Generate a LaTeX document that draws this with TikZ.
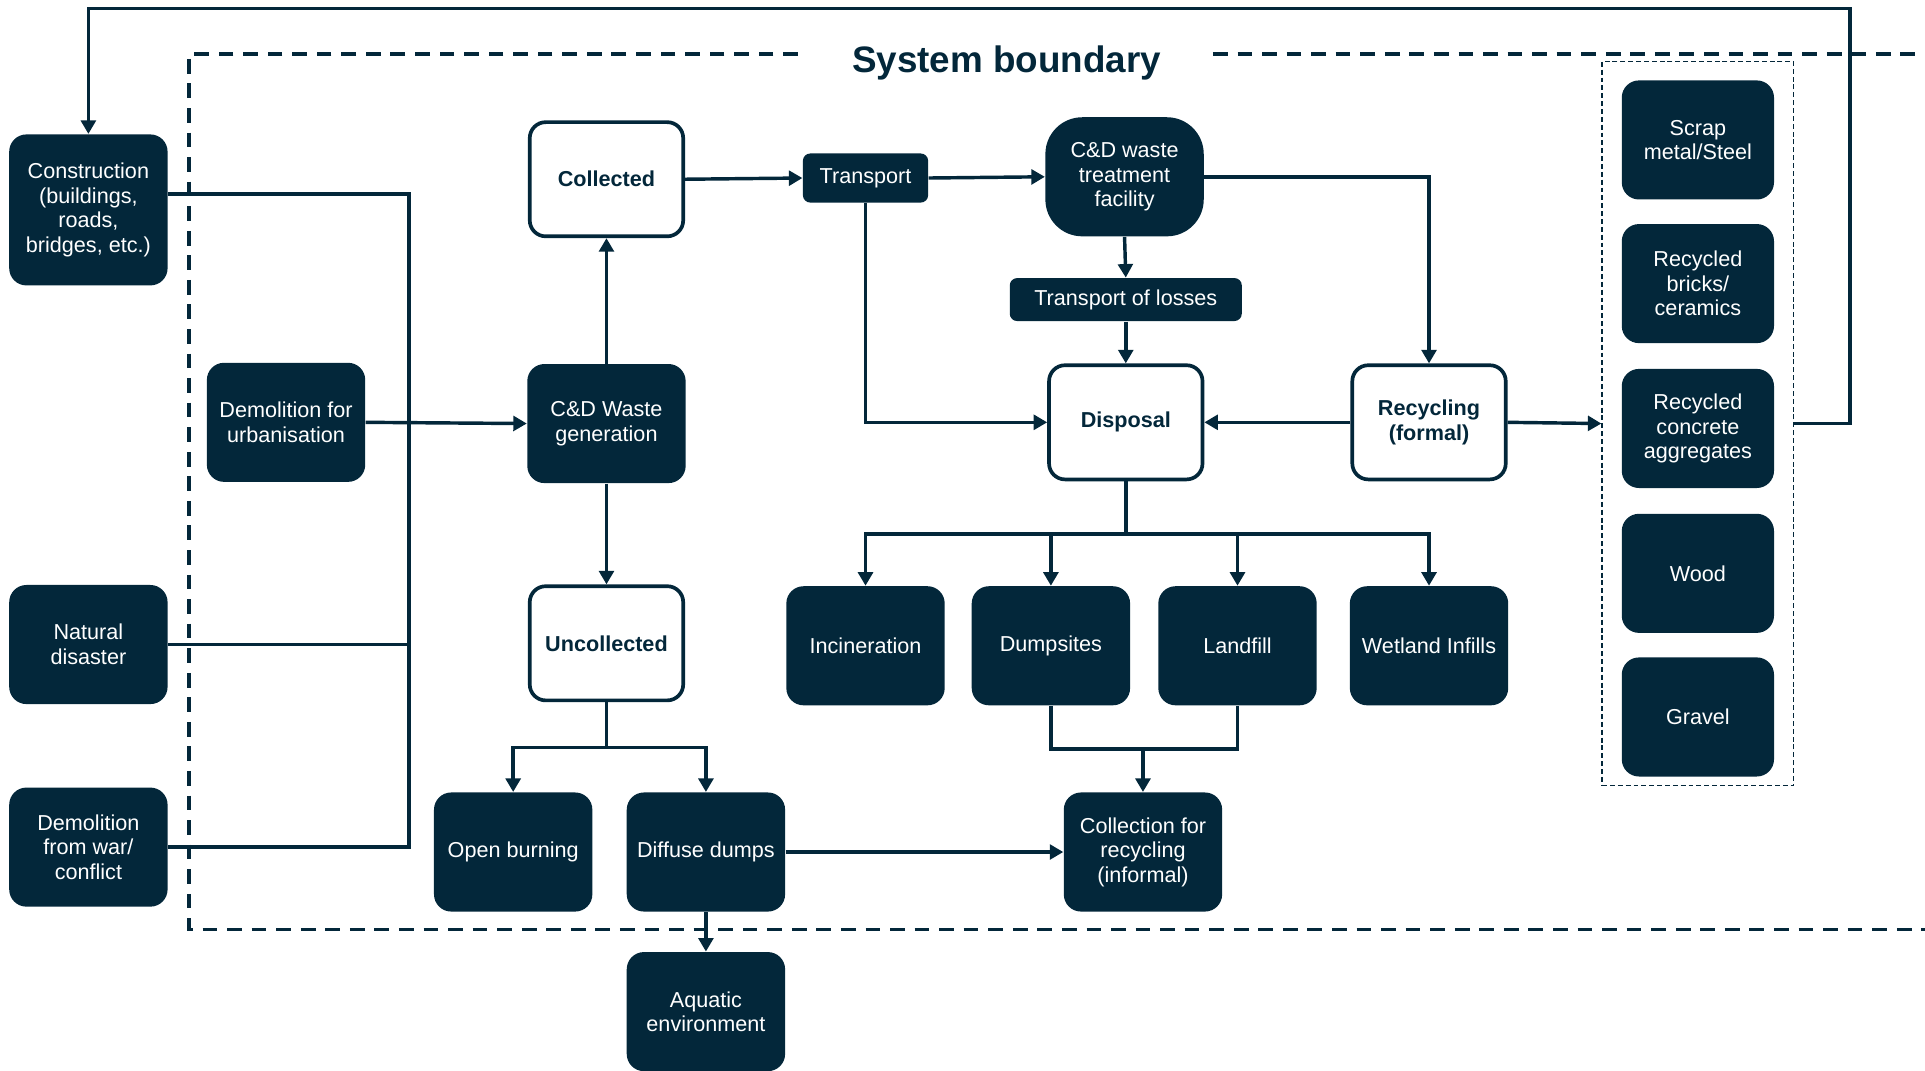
\documentclass[tikz,border=0pt]{standalone}
\usepackage{fontspec}
\setmainfont{Liberation Sans}
\usetikzlibrary{arrows.meta}
\definecolor{navy}{RGB}{3,39,58}

\begin{document}
\begin{tikzpicture}[x=0.5pt,y=-0.5pt,
  txt/.style={font=\fontsize{8.8}{10}\selectfont},
  dark/.style={txt, draw=none, fill=navy, text=white, rounded corners=7pt, align=center,
    minimum width=64.5pt, minimum height=48.5pt, inner sep=2pt},
  light/.style={txt, draw=navy, line width=1.5pt, fill=white, text=navy, rounded corners=6.5pt,
    align=center, font=\fontsize{8.8}{10}\selectfont\bfseries, minimum width=62.5pt, minimum height=46.5pt},
  product/.style={dark, minimum width=62pt},
  link/.style={draw=navy, line width=1.4pt},
  flow/.style={link, -{Triangle[length=5.5pt,width=6pt]}},
  boundary/.style={draw=navy, line width=1.5pt, dash pattern=on 6pt off 4pt},
  group/.style={draw=navy, line width=0.6pt, dash pattern=on 2pt off 1.2pt, fill=none,
    minimum width=78pt, minimum height=295pt}
]
\useasboundingbox (0,0) rectangle (1568,872);

% system boundary with its title
\draw[boundary] (650,44) -- (154,44) -- (154,757) -- (1568,757);
\draw[boundary] (988,44) -- (1568,44);
\node[text=navy, font=\fontsize{15}{17}\selectfont\bfseries] (title) at (820,51) {System boundary};

% sources
\node[dark, minimum height=61.5pt] (constr) at (72,171) {Construction\\(buildings,\\roads,\\bridges, etc.)};
\node[dark] (demu) at (233,344) {Demolition for\\urbanisation};
\node[dark] (nat) at (72,525) {Natural\\disaster};
\node[dark] (war) at (72,690) {Demolition\\from war/\\conflict};

% generation and collection
\node[light] (coll) at (494,146) {Collected};
\node[dark] (gen) at (494,345) {C\&D Waste\\generation};
\node[light] (uncoll) at (494,524) {Uncollected};

% treatment chain
\node[dark, minimum width=51pt, minimum height=20pt, rounded corners=3pt] (trans) at (705,145) {Transport};
\node[dark, rounded corners=15pt] (treat) at (916,144) {C\&D waste\\treatment\\facility};
\node[dark, minimum width=94.5pt, minimum height=17.5pt, rounded corners=3pt] (loss) at (917,244) {Transport of losses};
\node[light] (disp) at (917,344) {Disposal};
\node[light] (recyc) at (1164,344) {Recycling\\(formal)};

% disposal routes
\node[dark] (inc) at (705,526) {Incineration};
\node[dark] (dump) at (856,526) {Dumpsites};
\node[dark] (land) at (1008,526) {Landfill};
\node[dark] (wet) at (1164,526) {Wetland Infills};

% uncollected routes
\node[dark] (open) at (418,694) {Open burning};
\node[dark] (diff) at (575,694) {Diffuse dumps};
\node[dark] (collinf) at (931,694) {Collection for\\recycling\\(informal)};
\node[dark] (aqua) at (575,824) {Aquatic\\environment};

% recovered products
\node[group] (prod) at (1383,345) {};
\node[product] (scrap) at (1383,114) {Scrap\\metal/Steel};
\node[product] (brick) at (1383,231) {Recycled\\bricks/\\ceramics};
\node[product] (conc) at (1383,349) {Recycled\\concrete\\aggregates};
\node[product] (wood) at (1383,467) {Wood};
\node[product] (grav) at (1383,584) {Gravel};

% junction points
\coordinate (busTop) at (333,158);
\coordinate (fbR) at (1507,7);
\coordinate (dbus) at (917,435);
\coordinate (jbus) at (931,610);
\coordinate (ubus) at (494,609);

% sources feeding waste generation
\draw[link] (constr.east |- busTop) -- (busTop) -- (busTop |- war.east) -- (war.east);
\draw[link] (nat.east) -- (nat.east -| busTop);
\draw[flow] (demu.east) -- (gen.west);

% collected / uncollected split
\draw[flow] (gen.north) -- (coll.south);
\draw[flow] (gen.south) -- (uncoll.north);

% collected stream
\draw[flow] (coll.east) -- (trans.west);
\draw[flow] (trans.east) -- (treat.west);
\draw[flow] (trans.south) |- (disp.west);
\draw[flow] (treat.south) -- (loss.north);
\draw[flow] (loss.south) -- (disp.north);
\draw[flow] (treat.east) -| (recyc.north);
\draw[flow] (recyc.west) -- (disp.east);
\draw[flow] (recyc.east) -- (prod.west);

% products back to construction
\draw[flow] (prod.east) -| (fbR) -| (constr.north);

% disposal branches
\draw[link] (disp.south) -- (dbus);
\draw[flow] (dbus) -| (inc.north);
\draw[flow] (dbus) -| (dump.north);
\draw[flow] (dbus) -| (land.north);
\draw[flow] (dbus) -| (wet.north);

% informal recovery from dumps and landfill
\draw[link] (dump.south) |- (jbus);
\draw[link] (land.south) |- (jbus);
\draw[flow] (jbus) -- (collinf.north);

% uncollected branches
\draw[link] (uncoll.south) -- (ubus);
\draw[flow] (ubus) -| (open.north);
\draw[flow] (ubus) -| (diff.north);
\draw[flow] (diff.east) -- (collinf.west);
\draw[flow] (diff.south) -- (aqua.north);
\end{tikzpicture}
\end{document}
